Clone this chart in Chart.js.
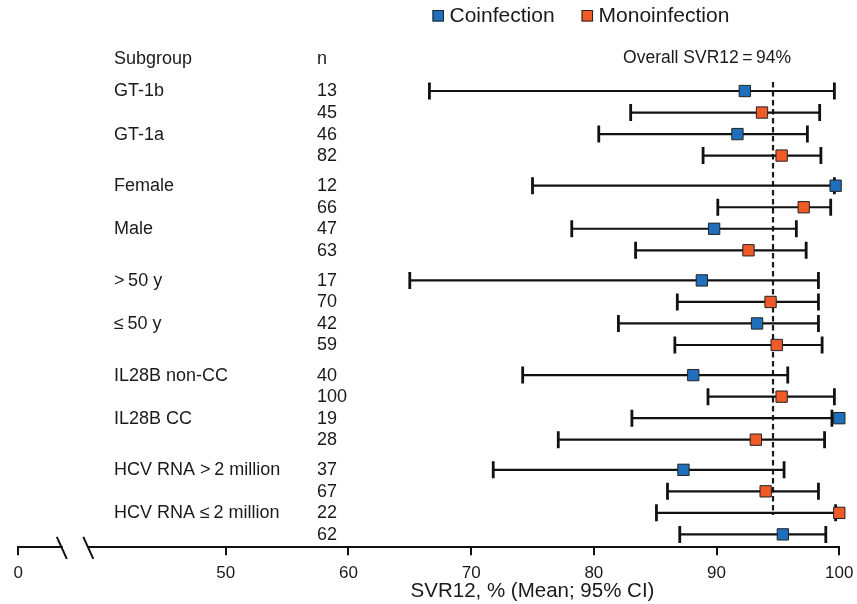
<!DOCTYPE html>
<html>
<head>
<meta charset="utf-8">
<script src="https://cdn.jsdelivr.net/npm/chart.js@4.4.0/dist/chart.umd.min.js"></script>
<style>
  html, body { margin: 0; background: #fff; }
</style>
</head>
<body>
<canvas id="forest" width="857" height="604"></canvas>
<script>
// Subgroups (each one has two rows in the plot)
const subgroups = ["GT-1b", "GT-1a", "Female", "Male", ">\u200950 y", "\u2264\u200950 y",
  "IL28B non-CC", "IL28B CC", "HCV RNA >\u20092 million", "HCV RNA \u2264\u20092 million"];

// One entry per row, top to bottom
const rowSeries = ["Coinfection", "Monoinfection", "Coinfection", "Monoinfection",
  "Coinfection", "Monoinfection", "Coinfection", "Monoinfection",
  "Coinfection", "Monoinfection", "Coinfection", "Monoinfection",
  "Coinfection", "Monoinfection", "Coinfection", "Monoinfection",
  "Coinfection", "Monoinfection", "Monoinfection", "Coinfection"];
const rowN    = [13, 45, 46, 82, 12, 66, 47, 63, 17, 70, 42, 59, 40, 100, 19, 28, 37, 67, 22, 62];
const rowMean = [92.3, 93.7, 91.7, 95.3, 99.7, 97.1, 89.8, 92.6, 88.8, 94.4,
                 93.3, 94.9, 88.1, 95.3, 100, 93.2, 87.3, 94.0, 100, 95.4];
const rowLow  = [66.6, 83.0, 80.4, 88.9, 75.0, 90.1, 78.2, 83.4, 65.0, 86.8,
                 82.0, 86.6, 74.2, 89.3, 83.1, 77.1, 71.8, 86.0, 85.1, 87.0];
const rowHigh = [99.6, 98.4, 97.4, 98.5, 99.6, 99.3, 96.5, 97.3, 98.3, 98.3,
                 98.3, 98.6, 95.8, 99.6, 99.4, 98.8, 95.5, 98.3, 99.7, 98.9];

const seriesNames = ["Coinfection", "Monoinfection"];
const seriesColors = ["#1f6fbd", "#f05a28"];

// Axis
const tickValues = [50, 60, 70, 80, 90, 100];
const axisStart = 33.1;        // broken axis, shown as "0"
const axisStartLabel = "0";
const overallSVR = 94.6;
const overallLabel = "Overall SVR12\u2009=\u200994%";
const xTitle = "SVR12, % (Mean; 95% CI)";

const FONT = "'Liberation Sans', Arial, Helvetica, sans-serif";
const INK = "#1a1a1a";
Chart.defaults.font.family = FONT;
Chart.defaults.color = INK;

// rows are grouped by 4 with a little extra space between groups
const rowPos = i => i + Math.floor(i / 4) * 0.4;

const datasets = seriesNames.map((name, s) => ({
  label: name,
  data: rowMean.map((m, i) => ({ x: m, y: rowPos(i) })).filter((p, i) => rowSeries[i] === name),
  backgroundColor: seriesColors[s],
  borderColor: "#222",
  pointStyle: "rect",
  pointRadius: 8,
  pointHoverRadius: 8,
  pointBorderWidth: 1,
  showLine: false,
  clip: false
}));

const forestPlugin = {
  id: "forest",
  beforeDatasetsDraw(chart) {
    const { ctx, scales: { x, y } } = chart;
    ctx.save();
    // overall line
    ctx.strokeStyle = INK;
    ctx.lineWidth = 2.2;
    ctx.setLineDash([5.5, 3.5]);
    ctx.beginPath();
    ctx.moveTo(x.getPixelForValue(overallSVR), y.getPixelForValue(rowPos(0) - 0.42));
    ctx.lineTo(x.getPixelForValue(overallSVR), y.getPixelForValue(rowPos(18) + 0.1));
    ctx.stroke();
    ctx.setLineDash([]);
    // CI bars
    ctx.strokeStyle = "#111";
    rowLow.forEach((lo, i) => {
      const py = y.getPixelForValue(rowPos(i));
      const x1 = x.getPixelForValue(lo), x2 = x.getPixelForValue(rowHigh[i]);
      ctx.lineWidth = 2.2;
      ctx.beginPath();
      ctx.moveTo(x1, py); ctx.lineTo(x2, py);
      ctx.stroke();
      ctx.lineWidth = 2.8;
      ctx.beginPath();
      ctx.moveTo(x1, py - 8.5); ctx.lineTo(x1, py + 8.5);
      ctx.moveTo(x2, py - 8.5); ctx.lineTo(x2, py + 8.5);
      ctx.stroke();
    });
    ctx.restore();
  },
  afterDraw(chart) {
    const { ctx, chartArea, scales: { x, y } } = chart;
    ctx.save();
    ctx.fillStyle = INK;
    ctx.textBaseline = "middle";

    // left table
    ctx.font = "18px " + FONT;
    ctx.textAlign = "left";
    const headY = y.getPixelForValue(rowPos(0) - 1.5);
    ctx.fillText("Subgroup", 114, headY);
    ctx.fillText("n", 317, headY);
    subgroups.forEach((g, k) => ctx.fillText(g, 114, y.getPixelForValue(rowPos(2 * k)) + 0.5));
    rowN.forEach((n, i) => ctx.fillText(String(n), 317, y.getPixelForValue(rowPos(i)) + 0.5));

    // overall label
    ctx.textAlign = "right";
    ctx.font = "17.5px " + FONT;
    ctx.fillText(overallLabel, x.getPixelForValue(overallSVR) + 18, headY - 1);

    // x title
    ctx.textAlign = "center";
    ctx.font = "20.5px " + FONT;
    ctx.fillText(xTitle, (x.getPixelForValue(50) + x.getPixelForValue(100)) / 2, 591);

    // legend
    ctx.font = "21px " + FONT;
    ctx.textAlign = "left";
    let lx = 432.5;
    const ly = 15.5;
    chart.data.datasets.forEach(ds => {
      ctx.fillStyle = ds.backgroundColor;
      ctx.fillRect(lx, ly - 5.5, 11.5, 11.5);
      ctx.strokeStyle = "#222";
      ctx.lineWidth = 1;
      ctx.strokeRect(lx + 0.5, ly - 5, 10.5, 10.5);
      ctx.fillStyle = INK;
      ctx.fillText(ds.label, lx + 17, ly + 1);
      lx += 17 + ctx.measureText(ds.label).width + 27;
    });

    // axis break
    const ay = chartArea.bottom + 0.5;
    const b1 = chartArea.left + 43.5, b2 = chartArea.left + 70;
    ctx.fillStyle = "#fff";
    ctx.fillRect(b1 + 1, ay - 3, b2 - b1 - 2, 6);
    ctx.strokeStyle = "#111";
    ctx.lineWidth = 2;
    ctx.beginPath();
    ctx.moveTo(b1 - 5, ay - 11); ctx.lineTo(b1 + 5, ay + 11);
    ctx.moveTo(b2 - 5, ay - 11); ctx.lineTo(b2 + 5, ay + 11);
    ctx.stroke();
    ctx.restore();
  }
};

new Chart(document.getElementById("forest"), {
  type: "scatter",
  data: { datasets },
  options: {
    responsive: false,
    animation: false,
    layout: { padding: { left: 18.3, right: 17.7, top: 69.5, bottom: 0 } },
    plugins: { legend: { display: false }, tooltip: { enabled: false } },
    scales: {
      x: {
        type: "linear",
        min: axisStart,
        max: 100,
        afterBuildTicks: s => { s.ticks = [{ value: axisStart }, ...tickValues.map(v => ({ value: v }))]; },
        afterFit: s => { s.height = 56.7; s.paddingLeft = 6; s.paddingRight = 15; },
        ticks: {
          font: { size: 17 },
          color: INK,
          padding: 8,
          maxRotation: 0,
          autoSkip: false,
          callback: v => (v === axisStart ? axisStartLabel : String(v))
        },
        grid: { drawOnChartArea: false, drawTicks: true, tickLength: 8, color: "#111", lineWidth: 2 },
        border: { display: true, color: "#111", width: 2 }
      },
      y: {
        type: "linear",
        display: false,
        reverse: true,
        min: -1,
        max: 21.2
      }
    }
  },
  plugins: [forestPlugin]
});
</script>
</body>
</html>
